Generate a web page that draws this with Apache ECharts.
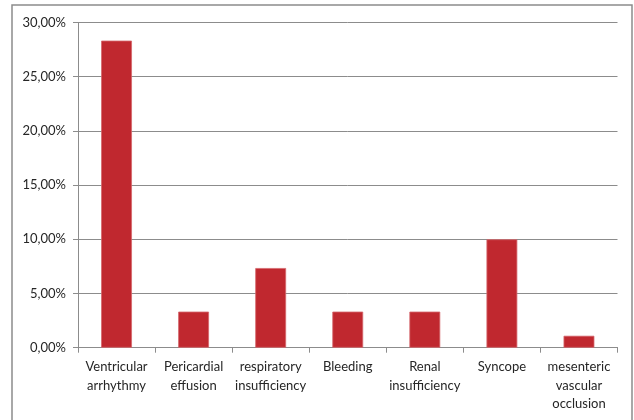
<!DOCTYPE html>
<html>
<head>
<meta charset="utf-8">
<script src="https://cdn.jsdelivr.net/npm/echarts@6/dist/echarts.min.js"></script>
<style>
html,body{margin:0;padding:0;background:#fff;}
#chart{width:634px;height:420px;}
</style>
</head>
<body>
<div id="chart"></div>
<script>
const categories = ["Ventricular\narrhythmy", "Pericardial\neffusion", "respiratory\ninsufficiency", "Bleeding", "Renal\ninsufficiency", "Syncope", "mesenteric\nvascular\nocclusion"];
const values = [28.33, 3.33, 7.35, 3.33, 3.33, 10.0, 1.1];
const yTicks = { min: 0, max: 30, interval: 5 };

const chart = echarts.init(document.getElementById('chart'), null, { renderer: 'canvas' });
const font = 'Lato, "Open Sans", sans-serif';
chart.setOption({
  animation: false,
  backgroundColor: '#ffffff',
  graphic: [{
    type: 'rect',
    shape: { x: 12, y: 5, width: 620, height: 430 },
    style: { fill: 'none', stroke: '#8c8c8c', lineWidth: 1.5 },
    silent: true
  }],
  grid: { left: 78, right: 16.5, top: 22.5, bottom: 72.3, containLabel: false },
  xAxis: {
    type: 'category',
    data: categories,
    axisLine: { show: true, lineStyle: { color: '#8c8c8c', width: 1 } },
    axisTick: { show: true, alignWithLabel: false, length: 5, lineStyle: { color: '#8c8c8c' } },
    axisLabel: { interval: 0, margin: 10, color: '#262626', fontSize: 13, fontFamily: font, lineHeight: 18.5, align: 'center' }
  },
  yAxis: {
    type: 'value',
    min: yTicks.min, max: yTicks.max, interval: yTicks.interval,
    axisLine: { show: true, lineStyle: { color: '#8c8c8c', width: 1 } },
    axisTick: { show: true, length: 5, lineStyle: { color: '#8c8c8c' } },
    splitLine: { show: true, lineStyle: { color: '#8c8c8c', width: 1 } },
    axisLabel: {
      margin: 12, color: '#262626', fontSize: 13, fontFamily: font,
      formatter: v => v.toFixed(2).replace('.', ',') + '%'
    }
  },
  series: [{
    type: 'bar',
    data: values,
    barCategoryGap: '60%',
    itemStyle: { color: '#C0282F', borderColor: '#d4676c', borderWidth: 0.8 }
  }]
});
</script>
</body>
</html>
